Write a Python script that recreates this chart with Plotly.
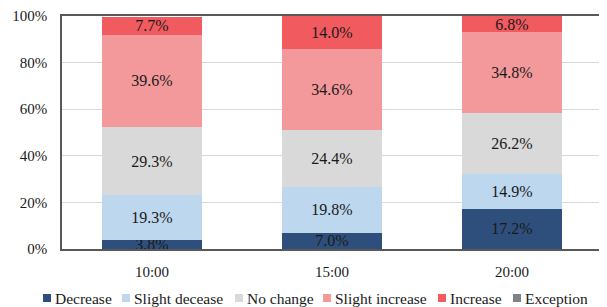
import plotly.graph_objects as go

categories = ["10:00", "15:00", "20:00"]
series_names = ["Decrease", "Slight decease", "No change", "Slight increase", "Increase", "Exception"]
decrease = [3.8, 7.0, 17.2]
slight_decrease = [19.3, 19.8, 14.9]
no_change = [29.3, 24.4, 26.2]
slight_increase = [39.6, 34.6, 34.8]
increase = [7.7, 14.0, 6.8]
exception = [0, 0, 0]
colors = ["#2E4F7B", "#BDD7EE", "#D9D9D9", "#F4999B", "#F15B5F", "#808285"]

values = [decrease, slight_decrease, no_change, slight_increase, increase, exception]
FONT = "Times New Roman, Liberation Serif, serif"
OFF = 8                      # page body margin
W, H = 607 - OFF, 307 - OFF
# plot area in page pixels: x 62..602, y 16..249
ML, MT = 62 - OFF, 16 - OFF
MR, MB = 607 - 602, 307 - 249
PW, PH = W - ML - MR, H - MT - MB

fig = go.Figure()
for name, vals, col in zip(series_names, values, colors):
    fig.add_trace(go.Bar(
        x=categories, y=vals, name=name, marker_color=col,
        marker_line_width=0,
        text=[f"{v:.1f}%" if v > 0 else "" for v in vals],
        textposition="inside", insidetextanchor="middle",
        constraintext="none", textangle=0,
        textfont=dict(family=FONT, size=16, color="#1A1A1A"),
        hoverinfo="skip", showlegend=False,
    ))

# custom legend (marker square + label), laid out like the original (page pixels)
legend_x = [43, 122, 235, 323, 438, 513]
legend_y = 298
def fx(px):
    return (px - OFF - ML) / PW
def fy(py):
    return (OFF + H - MB - py) / PH

shapes, annotations = [], []
for name, col, lx in zip(series_names, colors, legend_x):
    shapes.append(dict(type="rect", xref="paper", yref="paper",
                       x0=fx(lx), x1=fx(lx + 8), y0=fy(legend_y + 4), y1=fy(legend_y - 4),
                       fillcolor=col, line_width=0))
    annotations.append(dict(xref="paper", yref="paper", x=fx(lx + 10), y=fy(legend_y),
                            xanchor="left", yanchor="middle", showarrow=False,
                            text=name, font=dict(family=FONT, size=15.5, color="#1A1A1A")))

fig.update_layout(
    barmode="stack", bargap=0.444,
    width=W, height=H,
    margin=dict(l=ML, r=MR, t=MT, b=MB, autoexpand=False),
    paper_bgcolor="white", plot_bgcolor="white",
    font=dict(family=FONT, size=15, color="#1A1A1A"),
    showlegend=False,
    shapes=shapes, annotations=annotations,
)
fig.update_xaxes(showline=True, linecolor="#595959", linewidth=2, mirror=True,
                 ticks="outside", ticklen=8, tickcolor="white", showgrid=False,
                 automargin=False,
                 tickfont=dict(family=FONT, size=15, color="#1A1A1A"), fixedrange=True)
fig.update_yaxes(range=[0, 100], dtick=20, ticksuffix="%", showline=True,
                 linecolor="#595959", linewidth=1.5, mirror=True,
                 showgrid=True, gridcolor="#D9D9D9", gridwidth=1, zeroline=False,
                 ticks="outside", ticklen=10, tickcolor="white", automargin=False,
                 tickfont=dict(family=FONT, size=15, color="#1A1A1A"), fixedrange=True)

fig.write_html("out.html")
